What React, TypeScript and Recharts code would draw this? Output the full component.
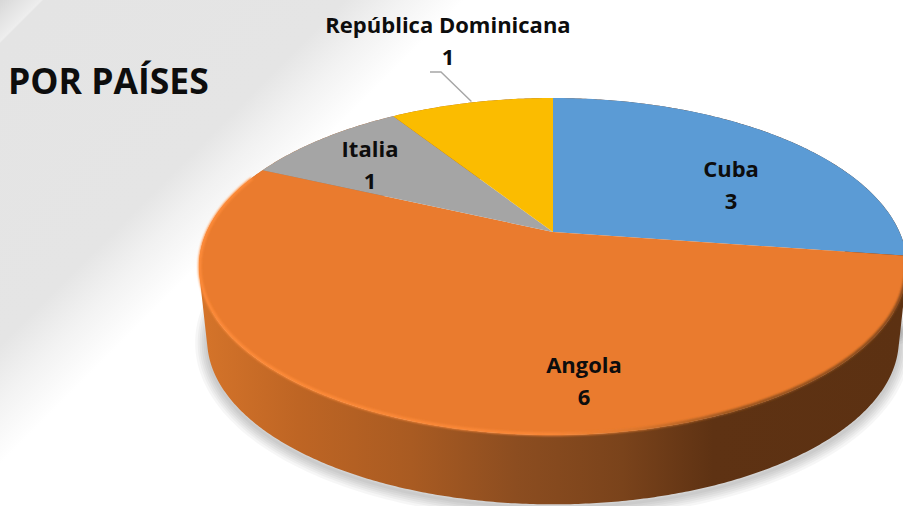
import { PieChart, Pie } from "recharts";

const countries = ["Cuba", "Angola", "Italia", "República Dominicana"];
const counts = [3, 6, 1, 1];
const sliceColors = ["#5B9BD5", "#EA7B2E", "#A5A5A5", "#FBBC00"];

// label centre per slice, Excel places these by hand so they don't sit on a radius
const labelAnchors = [
  [731, 185],
  [584, 381],
  [370, 165],
  [448, 41],
];

const tableData = countries.map((name, i) => ({
  name,
  value: counts[i],
  fill: sliceColors[i],
}));

const WIDTH = 903;
const HEIGHT = 506;
const CX = 553;
const CY = 232;
const FONT = "'Open Sans', Lato, sans-serif";

// perspective tilt: far rim is squeezed, near rim stretched
const TILT = 0.205;
const X_RADIUS = 346.5;
const Y_RADIUS = 161.4;
const BOTTOM_CY = 306;
const BOTTOM_SCALE = 0.977;

// soft shadow faked with stacked strokes
const SHADOW_WIDTHS = [24, 19, 15, 11, 7, 3];

function project(clockDeg: number, r = 1, cy = CY, scale = 1) {
  const a = (clockDeg * Math.PI) / 180;
  const u = r * Math.sin(a);
  const v = -r * Math.cos(a);
  const w = 1 - TILT * v;
  return [CX + (scale * X_RADIUS * u) / w, cy + (scale * Y_RADIUS * v) / w];
}

function arcPoints(from: number, to: number, cy = CY, scale = 1) {
  const pts: number[][] = [];
  const steps = Math.max(2, Math.ceil(Math.abs(to - from)));
  for (let i = 0; i <= steps; i++) {
    pts.push(project(from + ((to - from) * i) / steps, 1, cy, scale));
  }
  return pts;
}

const toPath = (pts: number[][]) =>
  pts.map((p, i) => `${i ? "L" : "M"}${p[0].toFixed(2)} ${p[1].toFixed(2)}`).join(" ");

function TopSlice(props: any) {
  const from = 90 - props.startAngle;
  const to = 90 - props.endAngle;
  const rim = arcPoints(from, to);
  const bevelFrom = Math.max(from, 100);
  const bevelTo = Math.min(to, 291);
  return (
    <g>
      <path d={`${toPath([[CX, CY], ...rim])} Z`} fill={props.fill} />
      {bevelTo > bevelFrom && (
        <>
          <defs>
            <linearGradient id="bevel" gradientUnits="userSpaceOnUse" x1="199" y1="0" x2="903" y2="0">
              <stop offset="0" stopColor="#FF8C3A" />
              <stop offset="0.5" stopColor="#FB8838" />
              <stop offset="0.62" stopColor="#D9762C" />
              <stop offset="0.75" stopColor="#94521F" />
              <stop offset="1" stopColor="#7A431A" />
            </linearGradient>
            <filter id="softEdge" filterUnits="userSpaceOnUse" x="150" y="100" width="800" height="400">
              <feGaussianBlur stdDeviation="1.1" />
            </filter>
          </defs>
          <path
            d={toPath(arcPoints(bevelFrom, bevelTo).map((p) => [CX + (p[0] - CX) * 0.998, CY + (p[1] - CY) * 0.996]))}
            fill="none"
            stroke="url(#bevel)"
            strokeWidth={3}
            filter="url(#softEdge)"
          />
        </>
      )}
    </g>
  );
}

function WallSlice(props: any) {
  const from = 90 - props.startAngle;
  const to = 90 - props.endAngle;
  const steps = Math.ceil((to - from) * 2);
  let d = "";
  for (let i = 0; i < steps; i++) {
    const a = from + ((to - from) * i) / steps;
    const b = from + ((to - from) * (i + 1)) / steps;
    const quad = [
      project(a),
      project(b),
      project(b, 1, BOTTOM_CY, BOTTOM_SCALE),
      project(a, 1, BOTTOM_CY, BOTTOM_SCALE),
    ];
    let area = 0;
    quad.forEach((p, j) => {
      const q = quad[(j + 1) % 4];
      area += p[0] * q[1] - q[0] * p[1];
    });
    if (area < 0) quad.reverse();
    d += `${toPath(quad)} Z `;
  }
  const shadowFrom = Math.max(from, 60);
  const shadowTo = Math.min(to, 290);
  const shadowPath =
    shadowTo > shadowFrom ? toPath(arcPoints(shadowFrom, shadowTo, BOTTOM_CY, BOTTOM_SCALE)) : "";
  return (
    <g>
      <defs>
        <linearGradient id="wall" gradientUnits="userSpaceOnUse" x1="200" y1="0" x2="903" y2="0">
          <stop offset="0" stopColor="#D5742A" />
          <stop offset="0.14" stopColor="#BE6524" />
          <stop offset="0.3" stopColor="#A95B22" />
          <stop offset="0.45" stopColor="#8C4D20" />
          <stop offset="0.6" stopColor="#7A431B" />
          <stop offset="0.73" stopColor="#5E3213" />
          <stop offset="1" stopColor="#5C3112" />
        </linearGradient>
      </defs>
      {shadowPath &&
        SHADOW_WIDTHS.map((w) => (
          <path
            key={w}
            d={shadowPath}
            fill="none"
            stroke="#000"
            strokeOpacity={0.035}
            strokeWidth={w}
            strokeLinecap="round"
            transform="translate(0 3)"
          />
        ))}
      <path d={d} fill="url(#wall)" />
    </g>
  );
}

function renderLabel(props: any) {
  const { index, name, value, midAngle } = props;
  const [x, y] = labelAnchors[index];
  const isOutside = index === 3;
  const tip = project(90 - midAngle);
  return (
    <g>
      {isOutside && (
        <polyline
          points={`430,72 441,72 ${tip[0]},${tip[1] - 1}`}
          fill="none"
          stroke="#A6A6A6"
          strokeWidth={1.4}
        />
      )}
      <text
        x={x}
        y={y}
        textAnchor="middle"
        fontFamily={FONT}
        fontWeight={700}
        fontSize={22}
        fill="#0D0D0D"
      >
        <tspan x={x} dy={-8}>
          {name}
        </tspan>
        <tspan x={x} dy={32}>
          {value}
        </tspan>
      </text>
    </g>
  );
}

export default function App() {
  return (
    <div
      style={{
        position: "absolute",
        left: 0,
        top: 0,
        width: WIDTH,
        height: HEIGHT,
        overflow: "hidden",
        background:
          "linear-gradient(135deg, #D8D8D8 0%, #EEEEEE 2.95%, #E4E4E4 3.1%, #E5E5E5 24.5%, #F1F1F1 28%, #FFFFFF 33%, #FFFFFF 100%)",
      }}
    >
      <div
        style={{
          position: "absolute",
          left: 8,
          top: 57,
          fontFamily: FONT,
          fontWeight: 700,
          fontSize: 35.5,
          color: "#0D0D0D",
          lineHeight: "46px",
          whiteSpace: "nowrap",
        }}
      >
        POR PAÍSES
      </div>
      <PieChart width={WIDTH} height={HEIGHT} margin={{ top: 0, right: 0, bottom: 0, left: 0 }}>
        <Pie
          data={tableData}
          dataKey="value"
          nameKey="name"
          cx={CX}
          cy={CY}
          outerRadius={X_RADIUS}
          startAngle={90}
          endAngle={-270}
          shape={WallSlice}
          isAnimationActive={false}
          label={false}
          labelLine={false}
          legendType="none"
        />
        <Pie
          data={tableData}
          dataKey="value"
          nameKey="name"
          cx={CX}
          cy={CY}
          outerRadius={X_RADIUS}
          startAngle={90}
          endAngle={-270}
          shape={TopSlice}
          isAnimationActive={false}
          label={renderLabel}
          labelLine={false}
          legendType="none"
        />
      </PieChart>
    </div>
  );
}
